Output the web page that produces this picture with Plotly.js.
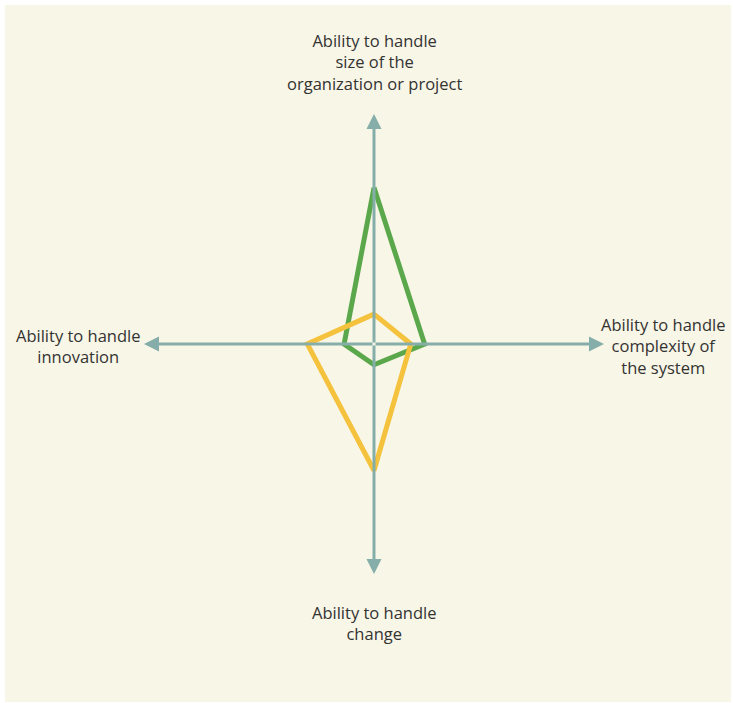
<!DOCTYPE html>
<html>
<head>
<meta charset="utf-8">
<script src="https://cdn.plot.ly/plotly-3.0.1.min.js"></script>
<style>
html,body{margin:0;padding:0;background:#ffffff;}
#chart{position:absolute;left:5px;top:5px;width:726px;height:697px;}
</style>
</head>
<body>
<div id="chart"></div>
<script>
// Dimensions (axis order: top, right, bottom, left)
const dimensions = ['Ability to handle<br>size of the<br>organization or project',
                    'Ability to handle<br>complexity of<br>the system',
                    'Ability to handle<br>change',
                    'Ability to handle<br>innovation'];
const axisMax = 10;
const greenValues  = [6.8, 2.2, 0.9, 1.3];
const yellowValues = [1.3, 1.6, 5.5, 2.9];

const dirs = [[0,1],[1,0],[0,-1],[-1,0]];
function poly(vals){
  const xs=[], ys=[];
  vals.forEach((v,i)=>{xs.push(dirs[i][0]*v); ys.push(dirs[i][1]*v);});
  xs.push(xs[0]); ys.push(ys[0]);
  return {x:xs,y:ys};
}
const g = poly(greenValues), yv = poly(yellowValues);
const traces = [
  {x:g.x, y:g.y, mode:'lines', line:{color:'#5ba84c', width:5}, hoverinfo:'skip', showlegend:false},
  {x:yv.x, y:yv.y, mode:'lines', line:{color:'#f4c23c', width:5}, hoverinfo:'skip', showlegend:false}
];

const axisColor = '#85adaa';
const annotations = [];
dirs.forEach(d=>{
  annotations.push({x:d[0]*axisMax, y:d[1]*axisMax, ax:0, ay:0, axref:'x', ayref:'y', xref:'x', yref:'y',
    text:'', showarrow:true, arrowhead:2, arrowsize:1.0, arrowwidth:3, arrowcolor:axisColor, standoff:0});
});
const labelFont = {family:'"Open Sans", "Noto Sans", sans-serif', size:16.5, color:'#333333'};
const labelPos = [
  {x:0, y:12.26, xanchor:'center', yanchor:'middle'},
  {x:12.55, y:-0.1, xanchor:'center', yanchor:'middle'},
  {x:0, y:-12.15, xanchor:'center', yanchor:'middle'},
  {x:-12.85, y:-0.1, xanchor:'center', yanchor:'middle'}
];
dimensions.forEach((t,i)=>{
  annotations.push(Object.assign({text:t, showarrow:false, xref:'x', yref:'y', font:labelFont, align:'center'}, labelPos[i]));
});

const layout = {
  width:726, height:697,
  margin:{l:0,r:0,t:0,b:0},
  paper_bgcolor:'#f8f6e6', plot_bgcolor:'#f8f6e6',
  xaxis:{range:[-369/23, (726-369)/23], visible:false, fixedrange:true},
  yaxis:{range:[-(697-339)/23, 339/23], visible:false, fixedrange:true},
  annotations:annotations,
  shapes:[]
};
Plotly.newPlot('chart', traces, layout, {displayModeBar:false, staticPlot:true});
</script>
</body>
</html>
